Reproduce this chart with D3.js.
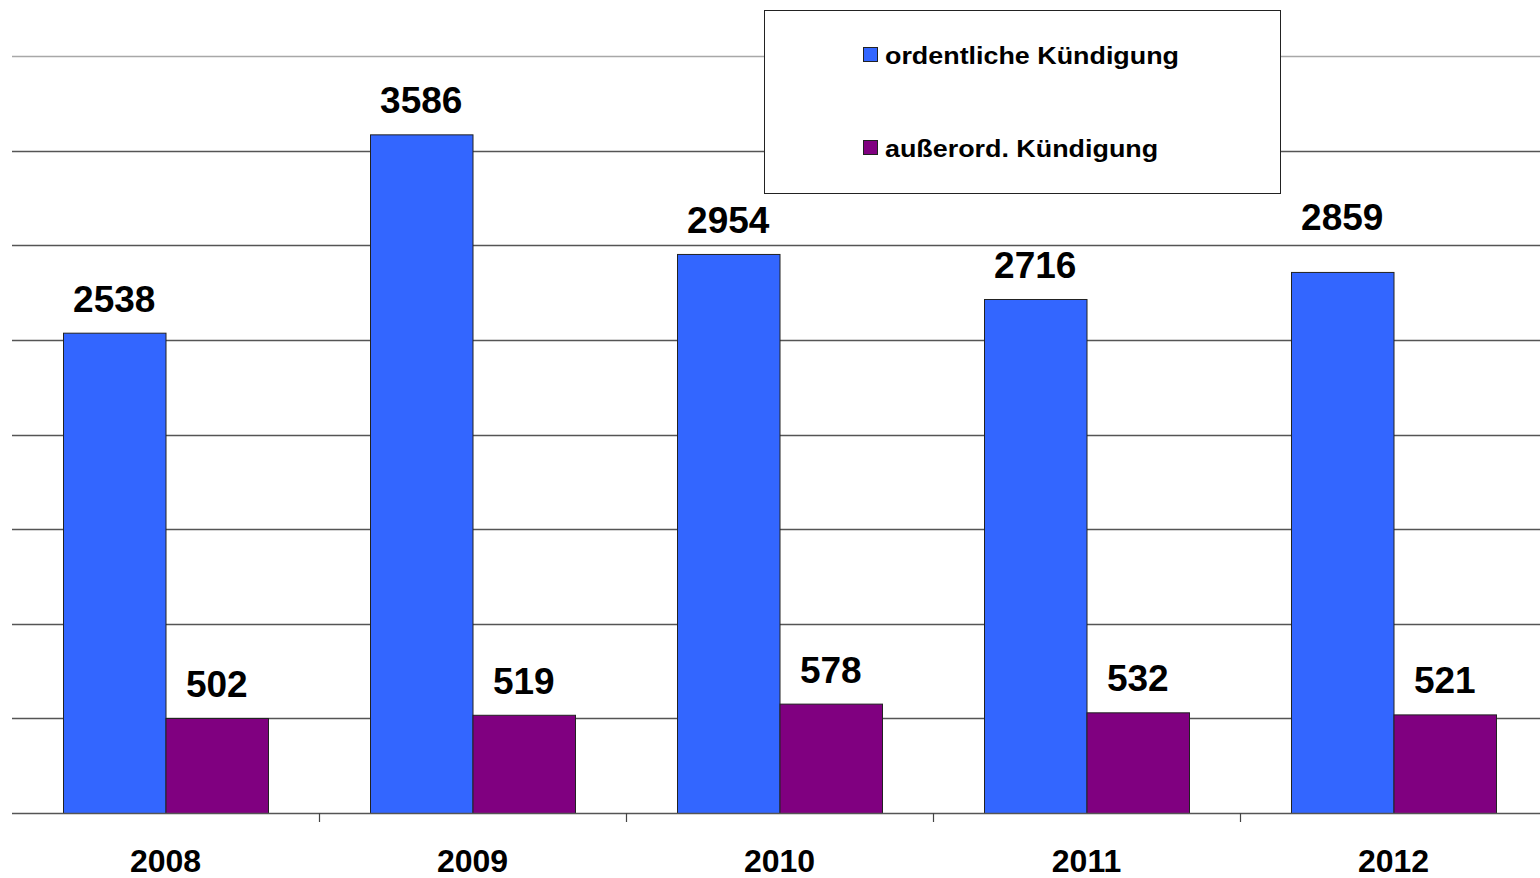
<!DOCTYPE html>
<html>
<head>
<meta charset="utf-8">
<script src="https://cdn.jsdelivr.net/npm/d3@7"></script>
<style>
  html, body { margin: 0; padding: 0; background: #fff; }
  svg { display: block; font-family: "Liberation Sans", Arial, sans-serif; }
</style>
</head>
<body>
<svg id="chart" width="1540" height="878"></svg>
<script>
const years = ["2008", "2009", "2010", "2011", "2012"];
const seriesNames = ["ordentliche Kündigung", "außerord. Kündigung"];
const ordentlich = [2538, 3586, 2954, 2716, 2859];
const ausserord = [502, 519, 578, 532, 521];
const seriesColors = ["#3366FF", "#800080"];
const gridTicks = [500, 1000, 1500, 2000, 2500, 3000, 3500, 4000];

const svg = d3.select("#chart");
const left = 12, right = 1547, baseY = 813, topY = 56;

const x = d3.scaleBand().domain(years).range([left, right]).padding(0);
const xs = d3.scaleBand().domain([0, 1]).range([51, x.bandwidth() - 51]).padding(0);
const y = d3.scaleLinear().domain([0, 4000]).range([baseY, topY]);

// gridlines
svg.append("g").selectAll("line").data(gridTicks).join("line")
  .attr("x1", left).attr("x2", 1540)
  .attr("y1", d => Math.round(y(d)) + 0.5).attr("y2", d => Math.round(y(d)) + 0.5)
  .attr("stroke", d => d === 4000 ? "#a8a8a8" : "#555")
  .attr("stroke-width", 1.3);

const data = years.map((yr, i) => ({ yr, i, vals: [ordentlich[i], ausserord[i]] }));

const groups = svg.append("g").selectAll("g").data(data).join("g")
  .attr("transform", d => `translate(${x(d.yr)},0)`);

groups.selectAll("rect").data(d => d.vals.map((v, k) => ({ v, k }))).join("rect")
  .attr("x", d => xs(d.k) + 0.5)
  .attr("width", xs.bandwidth())
  .attr("y", d => y(d.v) + 0.5)
  .attr("height", d => baseY - y(d.v))
  .attr("fill", d => seriesColors[d.k])
  .attr("stroke", "#222")
  .attr("stroke-width", 1);

// the last blue label sits higher in the original
const labelLift = (i, k) => (i === 4 && k === 0 ? 42 : 21);
groups.selectAll("text").data(d => d.vals.map((v, k) => ({ v, k, i: d.i }))).join("text")
  .attr("x", d => xs(d.k) + xs.bandwidth() / 2)
  .attr("y", d => y(d.v) - labelLift(d.i, d.k))
  .attr("text-anchor", "middle")
  .attr("font-weight", "bold")
  .attr("font-size", 37)
  .attr("fill", "#000")
  .text(d => d.v);

// x axis
svg.append("line").attr("x1", left).attr("x2", 1540).attr("y1", baseY + 0.5).attr("y2", baseY + 0.5)
  .attr("stroke", "#555").attr("stroke-width", 1.3);
svg.append("g").selectAll("line").data(years.slice(1)).join("line")
  .attr("x1", d => Math.round(x(d)) + 0.5).attr("x2", d => Math.round(x(d)) + 0.5)
  .attr("y1", baseY).attr("y2", baseY + 9)
  .attr("stroke", "#444").attr("stroke-width", 1.2);
svg.append("g").selectAll("text").data(years).join("text")
  .attr("x", d => x(d) + x.bandwidth() / 2)
  .attr("y", 872)
  .attr("text-anchor", "middle")
  .attr("font-weight", "bold")
  .attr("font-size", 32)
  .attr("fill", "#000")
  .text(d => d);

// legend
const lg = svg.append("g");
lg.append("rect").attr("x", 764.5).attr("y", 10.5).attr("width", 516).attr("height", 183)
  .attr("fill", "#fff").attr("stroke", "#222").attr("stroke-width", 1);
const legY = [55, 148];
seriesNames.forEach((name, i) => {
  lg.append("rect").attr("x", 863.5).attr("y", legY[i] - 7.5).attr("width", 14).attr("height", 14)
    .attr("fill", seriesColors[i]).attr("stroke", "#222").attr("stroke-width", 1);
  lg.append("text")
    .attr("transform", `translate(885,${legY[i] + 9}) scale(1.12,1)`)
    .attr("font-weight", "bold").attr("font-size", 24).attr("fill", "#000")
    .text(name);
});
</script>
</body>
</html>
